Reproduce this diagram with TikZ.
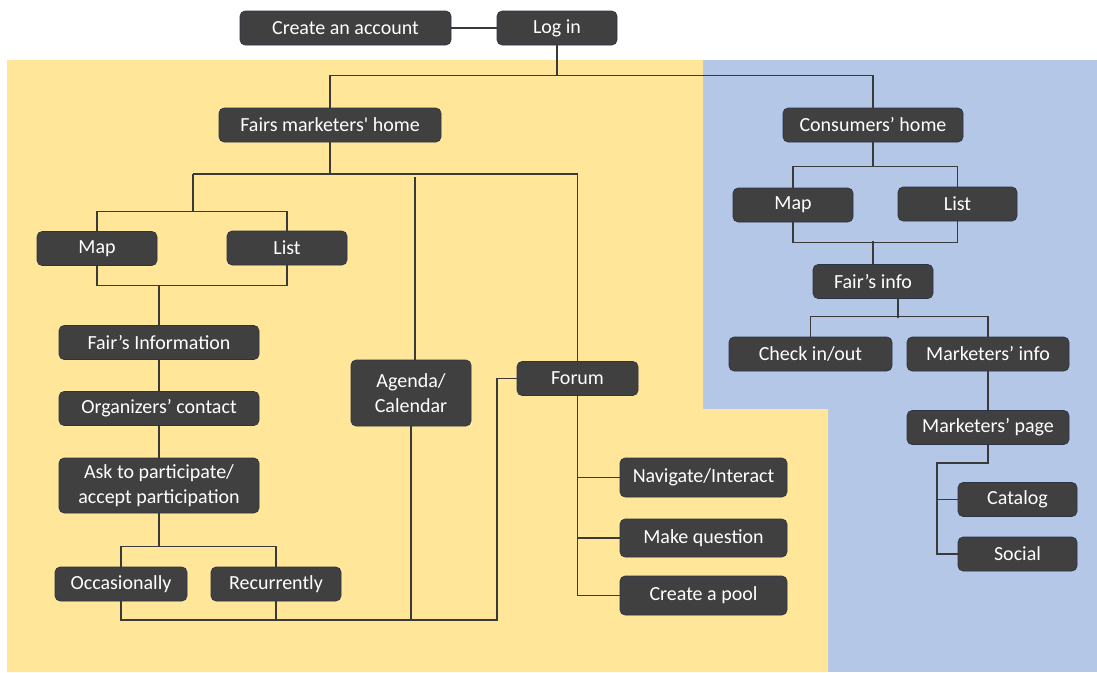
\documentclass[tikz,border=0pt]{standalone}
\usepackage{fontspec}
\setmainfont{Carlito}
\usepackage{tikz}
\usepackage{xcolor}
\definecolor{boxgray}{HTML}{404040}
\definecolor{boxedge}{HTML}{2B3445}
\definecolor{yellowbg}{HTML}{FFE699}
\definecolor{bluebg}{HTML}{B4C7E7}
\definecolor{linkgray}{HTML}{3A3A3A}

\begin{document}
\begin{tikzpicture}[
            x=1pt, y=-1pt,
            box/.style={draw=boxedge, line width=0.6pt, fill=boxgray, rounded corners=5pt,
                text=white, font=\fontsize{20}{25}\selectfont, align=center,
                inner sep=2pt, minimum height=34pt},
            link/.style={draw=linkgray, line width=1.1pt}
        ]

            \useasboundingbox (0,0) rectangle (1097,672);
            \fill[bluebg] (703,60) rectangle (1097,672);
            \fill[yellowbg] (7,60) -- (703,60) -- (703,409) -- (828,409) -- (828,672) -- (7,672) -- cycle;

            \node[box, minimum width=211pt] (account) at (345.5,28) {Create an account};
            \node[box, minimum width=120pt] (login) at (557,28) {Log in};

            \node[box, minimum width=222pt] (fmhome) at (330,125) {Fairs marketers\textquotesingle{} home};
            \node[box, minimum width=120pt] (fmap) at (97,248.5) {Map};
            \node[box, minimum width=120pt] (flist) at (287,248) {List};
            \node[box, minimum width=200pt] (finfo) at (159,342.5) {Fair’s Information};
            \node[box, minimum width=200pt] (contact) at (159,408.5) {Organizers’ contact};
            \node[box, minimum width=200pt, minimum height=55pt] (ask) at (159,485.5) {Ask to participate/\\accept participation};
            \node[box, minimum width=132pt] (occasional) at (121,584) {Occasionally};
            \node[box, minimum width=130pt] (recurrent) at (276,584) {Recurrently};
            \node[box, minimum width=120pt, minimum height=66pt] (agenda) at (411,393) {Agenda/\\Calendar};
            \node[box, minimum width=121pt] (forum) at (577.5,378.5) {Forum};
            \node[box, minimum width=167pt, minimum height=39pt] (navigate) at (703.5,477.5) {Navigate/Interact};
            \node[box, minimum width=167pt, minimum height=38pt] (question) at (703.5,538) {Make question};
            \node[box, minimum width=167pt, minimum height=39pt] (pool) at (703.5,595.5) {Create a pool};

            \node[box, minimum width=180pt] (cshome) at (873,125) {Consumers’ home};
            \node[box, minimum width=120pt] (cmap) at (793,205) {Map};
            \node[box, minimum width=119pt] (clist) at (957.5,204) {List};
            \node[box, minimum width=120pt] (cinfo) at (873,281.5) {Fair’s info};
            \node[box, minimum width=163pt] (checkin) at (810.5,354) {Check in/out};
            \node[box, minimum width=162pt] (mkinfo) at (988,354) {Marketers’ info};
            \node[box, minimum width=162pt] (mkpage) at (988,427.5) {Marketers’ page};
            \node[box, minimum width=119pt] (catalog) at (1017.5,499.5) {Catalog};
            \node[box, minimum width=119pt] (social) at (1017.5,554) {Social};

            \coordinate (fmbus) at (193,174);
            \coordinate (agtop) at (415,177);
            \coordinate (lowbus) at (497,620);
            \coordinate (pagebus) at (937,463);

            \draw[link] (account) -- (login);
            \draw[link] (login.south) -- ++(0,31);
            \draw[link] (fmhome.north) -- ++(0,-32) -| (cshome.north);

            \draw[link] (fmhome.south) -- (fmhome.south |- fmbus);
            \draw[link] (fmbus) -| (forum.north);
            \draw[link] (fmbus) -- ++(0,37);
            \draw[link] (fmap.north) -- ++(0,-20) -| (flist.north);
            \draw[link] (fmap.south) -- ++(0,20) -| (flist.south);
            \draw[link] (finfo.north) -- ++(0,-40);
            \draw[link] (finfo) -- (contact);
            \draw[link] (contact) -- (ask);
            \draw[link] (ask.south) -- ++(0,34);
            \draw[link] (occasional.north) -- ++(0,-20) -| (recurrent.north);
            \draw[link] (occasional.south) |- (lowbus) |- (forum.west);
            \draw[link] (recurrent.south) -- ++(0,19);
            \draw[link] (agtop) -- (agtop |- agenda.north);
            \draw[link] (agenda.south) -- (agenda.south |- lowbus);
            \draw[link] (forum.south) |- (navigate.west);
            \draw[link] (forum.south) |- (question.west);
            \draw[link] (forum.south) |- (pool.west);

            \draw[link] (cshome.south) -- ++(0,25);
            \draw[link] (cmap.north) -- ++(0,-21) -| (clist.north);
            \draw[link] (cmap.south) -- ++(0,20) -| (clist.south);
            \draw[link] (cinfo.north) -- ++(0,-23);
            \draw[link] ([xshift=25pt]cinfo.south) -- ++(0,19);
            \draw[link] (checkin.north) -- ++(0,-20) -| (mkinfo.north);
            \draw[link] (mkinfo) -- (mkpage);
            \draw[link] (mkpage.south) |- (pagebus) |- (social.west);
            \draw[link] (pagebus) |- (catalog.west);
        \end{tikzpicture}
\end{document}
